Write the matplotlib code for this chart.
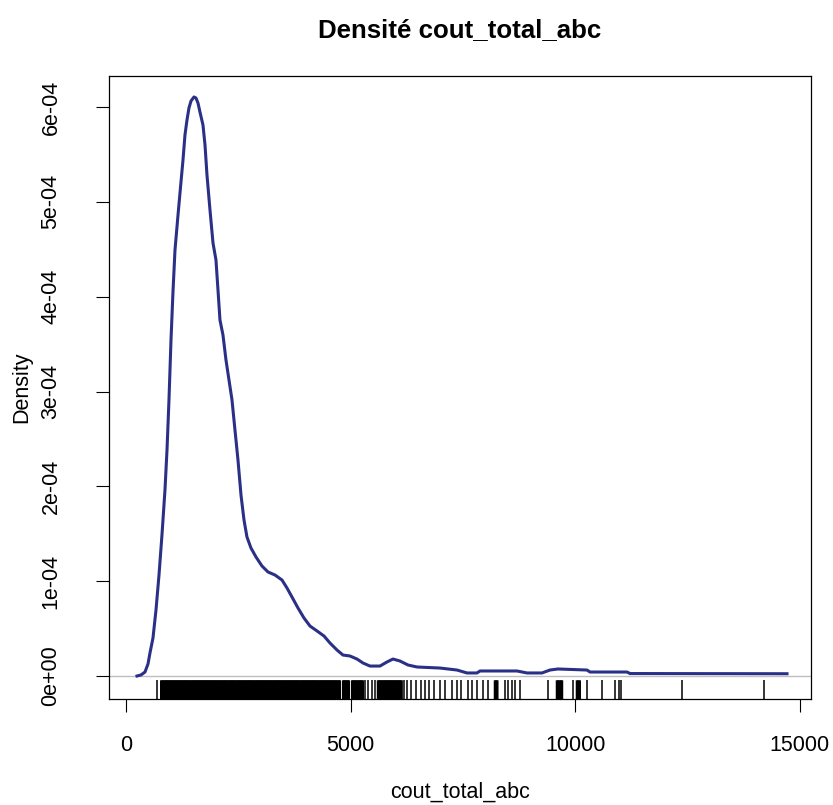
# import all the needed modules
import matplotlib
matplotlib.use("Agg")
import matplotlib.pyplot as plt

plt.rcParams['font.family'] = ['Liberation Sans', 'DejaVu Sans']

### Start : Data --------------------------------------------------------------
# density curve of cout_total_abc (x in cost units, y = density)
dens_x = [245, 334, 423, 490, 534, 601, 668, 735, 801, 868, 913, 957, 1002, 1046,
          1091, 1158, 1202, 1269, 1313, 1358, 1402, 1447, 1514, 1558, 1603, 1647,
          1714, 1759, 1803, 1870, 1937, 2003, 2048, 2092, 2159, 2226, 2293, 2360,
          2426, 2493, 2560, 2627, 2693, 2782, 2894, 3027, 3161, 3317, 3473, 3584,
          3695, 3829, 3962, 4096, 4252, 4407, 4541, 4697, 4830, 4986, 5142, 5276,
          5431, 5654, 5810, 5943, 6099, 6277, 6478, 6990, 7368, 7591, 7813, 7880,
          8704, 8926, 9260, 9438, 9616, 10262, 10329, 11152, 11219, 14714]
dens_y = [0.0, 0.011, 0.042, 0.127, 0.243, 0.401, 0.696, 1.065, 1.487, 1.961, 2.383,
          2.910, 3.543, 4.049, 4.492, 4.861, 5.093, 5.441, 5.705, 5.863, 5.990, 6.063,
          6.106, 6.095, 6.042, 5.947, 5.810, 5.600, 5.283, 4.914, 4.566, 4.387, 4.070,
          3.754, 3.596, 3.332, 3.121, 2.910, 2.594, 2.278, 1.909, 1.645, 1.466, 1.350,
          1.255, 1.160, 1.097, 1.065, 1.012, 0.928, 0.833, 0.717, 0.612, 0.527, 0.475,
          0.422, 0.348, 0.274, 0.221, 0.211, 0.179, 0.137, 0.105, 0.105, 0.148, 0.179,
          0.158, 0.116, 0.095, 0.084, 0.063, 0.032, 0.032, 0.053, 0.053, 0.032, 0.032,
          0.063, 0.074, 0.063, 0.042, 0.042, 0.026, 0.024]
dens_y = [v * 1e-4 for v in dens_y]

# rug = individual observations (dense part is read as one tick per pixel)
rug_dense = [785, 810, 835, 860, 885, 910, 935, 960, 985, 1010, 1035, 1060, 1085, 1110, 1135, 1160,
             1185, 1210, 1235, 1260, 1285, 1310, 1335, 1360, 1385, 1410, 1435, 1460, 1485, 1510, 1535, 1560,
             1585, 1610, 1635, 1660, 1685, 1710, 1735, 1760, 1785, 1810, 1835, 1860, 1885, 1910, 1935, 1960,
             1985, 2010, 2035, 2060, 2085, 2110, 2135, 2160, 2185, 2210, 2235, 2260, 2285, 2310, 2335, 2360,
             2385, 2410, 2435, 2460, 2485, 2510, 2535, 2560, 2585, 2610, 2635, 2660, 2685, 2710, 2735, 2760,
             2785, 2810, 2835, 2860, 2885, 2910, 2935, 2960, 2985, 3010, 3035, 3060, 3085, 3110, 3135, 3160,
             3185, 3210, 3235, 3260, 3285, 3310, 3335, 3360, 3385, 3410, 3435, 3460, 3485, 3510, 3535, 3560,
             3585, 3610, 3635, 3660, 3685, 3710, 3735, 3760, 3785, 3810, 3835, 3860, 3885, 3910, 3935, 3960,
             3985, 4010, 4035, 4060, 4085, 4110, 4135, 4160, 4185, 4210, 4235, 4260, 4285, 4310, 4335, 4360,
             4385, 4410, 4435, 4460, 4485, 4510, 4535, 4560, 4585, 4610, 4635, 4660, 4685, 4710, 4735, 4760]
rug_mid = [4835, 4860, 4885, 4910, 4935, 4960, 5035, 5060, 5085, 5110, 5135,
           5170, 5195, 5220, 5245, 5270,
           5610, 5635, 5660, 5685, 5710, 5735, 5760, 5785, 5810, 5835, 5860,
           5885, 5910, 5935, 5960, 5985, 6010, 6035, 6060, 6085, 6110, 6135,
           8214, 8240, 8265, 9594, 9620, 9650, 9680, 9705, 10039, 10070, 10100]
rug_tail = [680, 5320, 5387, 5476, 5543, 6188, 6255, 6344, 6455, 6567, 6656, 6745,
            6856, 6990, 7101, 7257, 7368, 7457, 7613, 7702, 7813, 7947, 8058, 8437,
            8503, 8592, 8659, 8770, 9394, 9950, 10262, 10596, 10885, 10974, 11019,
            12377, 14202]

x_ticks = [0, 5000, 10000, 15000]
x_labels = ["0", "5000", "10000", "15000"]
y_ticks = [0, 1e-4, 2e-4, 3e-4, 4e-4, 5e-4, 6e-4]
y_labels = ["0e+00", "1e-04", "2e-04", "3e-04", "4e-04", "5e-04", "6e-04"]
### End : Data ----------------------------------------------------------------


### Start : Plot --------------------------------------------------------------
fig = plt.figure(figsize=(8.33, 8.05), dpi=100)
ax = fig.add_axes([109 / 833, (805 - 699) / 805, (811 - 109) / 833, (699 - 76) / 805])

ax.axhline(0, color="#bebebe", lw=1.0, zorder=1)
ax.plot(dens_x, dens_y, color="#2b3087", lw=2.2, zorder=3, solid_joinstyle="round")

# rug ticks: 3% of the plot height from the bottom
xtr = ax.get_xaxis_transform()
ax.vlines(rug_dense + rug_mid, 0, 0.03, colors="black", lw=1.8, transform=xtr, zorder=2, snap=False)
ax.vlines(rug_tail, 0, 0.03, colors="black", lw=1.1, transform=xtr, zorder=2)

ax.set_xlim(-378, 15248)
ax.set_ylim(-2.425e-5, 6.327e-4)

ax.set_xticks(x_ticks)
ax.set_xticklabels(x_labels)
ax.set_yticks(y_ticks)
ax.set_yticklabels(y_labels, rotation=90, va="center")

ax.tick_params(axis="both", direction="out", length=9.4, width=0.8, labelsize=15.5, colors="black")
ax.tick_params(axis="x", pad=16.5)
ax.tick_params(axis="y", pad=24.8)

for sp in ax.spines.values():
    sp.set_linewidth(0.9)
    sp.set_color("black")

ax.set_title("Densité cout_total_abc", fontsize=18.6, fontweight="bold", pad=28)
ax.set_xlabel("cout_total_abc", fontsize=15.5, labelpad=18.4)
ax.set_ylabel("Density", fontsize=15.5, labelpad=6.3)

fig.savefig("out.png", dpi=100, facecolor="white")
### End : Plot ----------------------------------------------------------------
